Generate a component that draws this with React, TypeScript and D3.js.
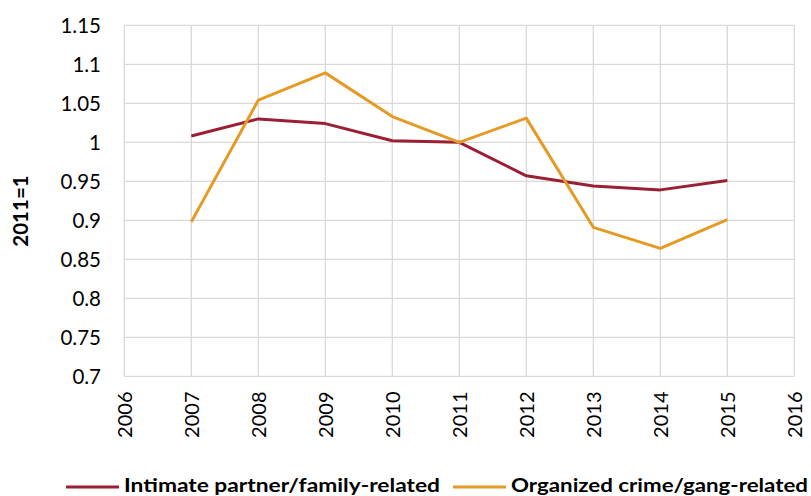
import React from "react";
import * as d3 from "d3";

const years = [2007, 2008, 2009, 2010, 2011, 2012, 2013, 2014, 2015];
const intimate = [1.008, 1.03, 1.024, 1.002, 1.0, 0.957, 0.944, 0.939, 0.951];
const organized = [0.898, 1.054, 1.089, 1.033, 1.0, 1.031, 0.891, 0.864, 0.901];
const yTicks = [0.7, 0.75, 0.8, 0.85, 0.9, 0.95, 1, 1.05, 1.1, 1.15];
const xTicks = [2006, 2007, 2008, 2009, 2010, 2011, 2012, 2013, 2014, 2015, 2016];
const seriesNames = ["Intimate partner/family-related", "Organized crime/gang-related"];
const colors = ["#9b1f33", "#e49b25"];

export default function App() {
  const W = 811, H = 496;
  const x = d3.scaleLinear().domain([2006, 2016]).range([124.3, 794.3]);
  const y = d3.scaleLinear().domain([0.7, 1.15]).range([376.3, 25.3]);
  const line = d3.line<number>().x((_, i) => x(years[i])).y((d) => y(d));
  const font = "Lato, 'Open Sans', sans-serif";
  const fmt = (v: number) => String(+v.toFixed(2));
  const legendX = [66, 453];
  const legendLen = [316, 297];
  return (
    <svg width={W} height={H} style={{ position: "absolute", left: 0, top: 0 }} fontFamily={font}>
      <rect width={W} height={H} fill="#fff" />
      {yTicks.map((t) => (
        <line key={"h" + t} x1={x(2006)} x2={x(2016)} y1={y(t)} y2={y(t)} stroke="#d9d9d9" strokeWidth={1.3} />
      ))}
      {xTicks.map((t) => (
        <line key={"v" + t} x1={x(t)} x2={x(t)} y1={y(1.15)} y2={y(0.7)} stroke="#d9d9d9" strokeWidth={1.3} />
      ))}
      {yTicks.map((t) => (
        <text key={"yl" + t} x={101} y={y(t)} dy="0.36em" textAnchor="end" fontSize={20.5} fill="#000">
          {fmt(t)}
        </text>
      ))}
      {xTicks.map((t) => (
        <text key={"xl" + t} transform={`translate(${x(t)},391.5) rotate(-90)`} dy="0.36em" textAnchor="end" fontSize={20} fill="#000">
          {t}
        </text>
      ))}
      <text transform="translate(21,211) rotate(-90)" textAnchor="middle" dy="0.36em" fontSize={20.5} fontWeight="bold" fill="#000">
        2011=1
      </text>
      <path d={line(intimate) || ""} fill="none" stroke={colors[0]} strokeWidth={3} strokeLinejoin="round" />
      <path d={line(organized) || ""} fill="none" stroke={colors[1]} strokeWidth={3} strokeLinejoin="round" />
      {seriesNames.map((n, i) => {
        const lx = legendX[i];
        return (
          <g key={n}>
            <line x1={lx} x2={lx + 53} y1={487} y2={487} stroke={colors[i]} strokeWidth={3} />
            <text x={lx + 58} y={492} fontSize={19.5} fontWeight="bold" fill="#000" textLength={legendLen[i]} lengthAdjust="spacingAndGlyphs">
              {n}
            </text>
          </g>
        );
      })}
    </svg>
  );
}
